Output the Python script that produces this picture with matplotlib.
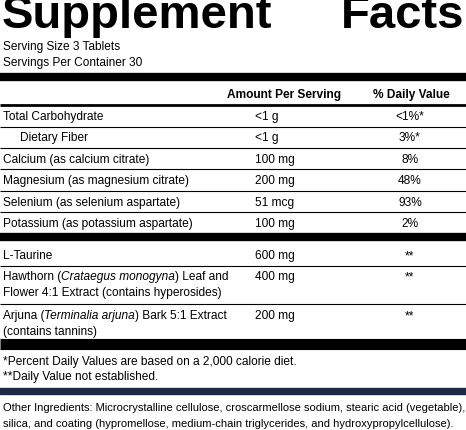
import matplotlib.pyplot as plt

W, H = 466, 431
FONT = "Liberation Sans"

serving_lines = ["Serving Size 3 Tablets", "Servings Per Container 30"]
header = ("Amount Per Serving", "% Daily Value")

group1 = [
    ([("Total Carbohydrate", "normal")], "<1 g", "<1%*"),
    ([("Dietary Fiber", "normal")], "<1 g", "3%*"),
    ([("Calcium (as calcium citrate)", "normal")], "100 mg", "8%"),
    ([("Magnesium (as magnesium citrate)", "normal")], "200 mg", "48%"),
    ([("Selenium (as selenium aspartate)", "normal")], "51 mcg", "93%"),
    ([("Potassium (as potassium aspartate)", "normal")], "100 mg", "2%"),
]
group2 = [
    [[("L-Taurine", "normal")]],
    [[("Hawthorn (", "normal"), ("Crataegus monogyna", "italic"), (") Leaf and", "normal")],
     [("Flower 4:1 Extract (contains hyperosides)", "normal")]],
    [[("Arjuna (", "normal"), ("Terminalia arjuna", "italic"), (") Bark 5:1 Extract", "normal")],
     [("(contains tannins)", "normal")]],
]
group2_amount = ["600 mg", "400 mg", "200 mg"]
group2_dv = ["**", "**", "**"]
footnotes = ["*Percent Daily Values are based on a 2,000 calorie diet.",
             "**Daily Value not established."]
other = ["Other Ingredients: Microcrystalline cellulose, croscarmellose sodium, stearic acid (vegetable),",
         "silica, and coating (hypromellose, medium-chain triglycerides, and hydroxypropylcellulose)."]

fig = plt.figure(figsize=(W / 100, H / 100), dpi=100)
ax = fig.add_axes([0, 0, 1, 1])
ax.set_xlim(0, W)
ax.set_ylim(H, 0)
ax.axis("off")
fig.canvas.draw()
renderer = fig.canvas.get_renderer()

FS = 8.6
AMT_X = 255
DV_X = 410


def txt(x, y, s, **kw):
    kw.setdefault("fontsize", FS)
    return ax.text(x, y, s, family=FONT, va="center", color="black", **kw)


def run(x, y, segs):
    for s, style in segs:
        t = txt(x, y, s, style=style)
        bb = t.get_window_extent(renderer)
        x += bb.width


def hline(y, lw):
    ax.plot([0, W], [y, y], color="black", lw=lw, solid_capstyle="butt")


ax.text(2, 28, "Supplement", family=FONT, weight="bold", fontsize=34, va="baseline")
ax.text(464, 28, "Facts", family=FONT, weight="bold", fontsize=34, va="baseline", ha="right")

txt(3, 47, serving_lines[0])
txt(3, 63, serving_lines[1])
hline(78, 6)
txt(227, 95, header[0], weight="bold")
txt(373, 95, header[1], weight="bold")
hline(105.5, 2)

y = 117
for i, (name, amt, dv) in enumerate(group1):
    run(20 if i == 1 else 3, y, name)
    txt(AMT_X, y, amt)
    txt(DV_X, y, dv, ha="center")
    if i < len(group1) - 1:
        hline(y + 10.5, 0.8)
    y += 21.4
hline(237.5, 6)

tops = [256, 277, 316]
for rows, amt, dv, yt in zip(group2, group2_amount, group2_dv, tops):
    for j, segs in enumerate(rows):
        run(3, yt + 16 * j, segs)
    txt(AMT_X, yt, amt)
    txt(DV_X, yt, dv, ha="center")
hline(266.5, 0.8)
hline(305, 0.8)
hline(345, 8)

txt(3, 362, footnotes[0])
txt(3, 377, footnotes[1])
ax.fill_between([0, W], 389, 395, color="#1c2a45")
txt(3, 408, other[0], fontsize=8.0)
txt(3, 424, other[1], fontsize=8.0)

fig.savefig("out.png", dpi=100)
